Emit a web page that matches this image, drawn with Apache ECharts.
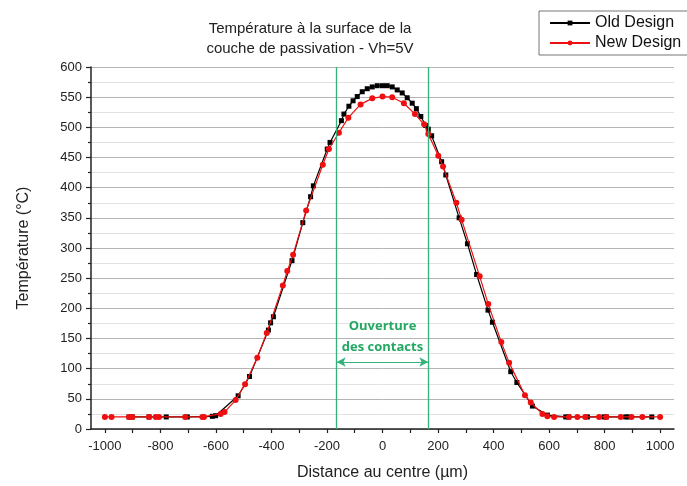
<!DOCTYPE html>
<html>
<head>
<meta charset="utf-8">
<script src="https://cdn.jsdelivr.net/npm/echarts@6/dist/echarts.min.js"></script>
<style>
  html, body { margin: 0; padding: 0; background: #fff; }
  #chart { width: 687px; height: 486px; }
</style>
</head>
<body>
<div id="chart"></div>
<script>
// Old Design (carrés noirs) : [distance µm, température °C]
var oldDesign = [
  [-913, 20], [-901, 20], [-841, 20], [-779, 20], [-703, 20], [-613, 21], [-601, 22],
  [-520, 55], [-479, 87], [-411, 164], [-403, 176], [-393, 186], [-326, 279], [-287, 342],
  [-259, 385], [-249, 403], [-199, 464], [-189, 475], [-148, 511], [-139, 522], [-121, 535],
  [-106, 544], [-91, 551], [-73, 559], [-55, 564], [-37, 567], [-19, 569], [0, 569],
  [17, 569], [35, 567], [53, 562], [71, 557], [89, 549], [107, 540], [122, 531], [138, 518],
  [156, 503], [165, 497], [177, 486], [213, 443], [228, 421], [276, 350], [306, 307],
  [339, 256], [380, 197], [396, 177], [462, 95], [484, 77], [540, 38], [594, 23],
  [660, 20], [670, 20], [738, 20], [798, 20], [806, 20], [876, 20], [885, 20], [970, 20]
];
// New Design (ronds rouges)
var newDesign = [
  [-1000, 20], [-976, 20], [-913, 20], [-901, 20], [-841, 20], [-817, 20], [-805, 20],
  [-711, 20], [-649, 20], [-643, 20], [-583, 25], [-569, 28], [-529, 48], [-495, 74],
  [-451, 118], [-417, 159], [-359, 238], [-343, 262], [-322, 289], [-275, 362], [-215, 438],
  [-193, 464], [-157, 491], [-123, 516], [-79, 538], [-37, 548], [0, 551], [35, 550],
  [77, 540], [117, 522], [150, 505], [165, 489], [201, 453], [218, 435], [266, 375],
  [285, 347], [350, 253], [381, 207], [428, 144], [456, 110], [513, 56], [534, 44],
  [576, 25], [594, 21], [618, 20], [672, 20], [702, 20], [730, 20], [780, 20], [806, 20],
  [858, 20], [897, 20], [936, 20], [1000, 20]
];
var xLabels = [-1000, -800, -600, -400, -200, 0, 200, 400, 600, 800, 1000];
var xTicks = [-1000, -900, -800, -700, -600, -500, -400, -300, -200, -100, 0,
  100, 200, 300, 400, 500, 600, 700, 800, 900, 1000];
var contactEdges = [-165, 165];   // ouverture des contacts
var arrowLevel = 111;

var green = '#34b27a';
var font = 'Liberation Sans, Arial, sans-serif';

var chart = echarts.init(document.getElementById('chart'));
chart.setOption({
  animation: false,
  title: {
    text: 'Température à la surface de la\ncouche de passivation - Vh=5V',
    left: 305, top: 14, textAlign: 'center',
    textStyle: { fontSize: 15, fontWeight: 'normal', color: '#222', lineHeight: 20, fontFamily: font }
  },
  legend: {
    orient: 'vertical', left: 539, top: 11,
    itemWidth: 40, itemHeight: 6, itemGap: 4,
    padding: [4, 40, 4, 10],
    borderColor: '#777', borderWidth: 1,
    textStyle: { fontSize: 16, color: '#111', fontFamily: font },
    data: ['Old Design', 'New Design']
  },
  grid: { left: 91, right: 13, top: 67, bottom: 55 },
  xAxis: {
    type: 'value', min: -1050, max: 1050,
    name: 'Distance au centre (µm)', nameLocation: 'middle', nameGap: 36,
    nameTextStyle: { fontSize: 16, color: '#222', fontFamily: font },
    axisLine: { show: true, onZero: false, lineStyle: { color: '#222', width: 1.5 } },
    axisTick: { show: true, customValues: xTicks, length: 4, lineStyle: { color: '#222', width: 1.2 } },
    axisLabel: {
      customValues: xLabels, fontSize: 13, color: '#222', margin: 11, fontFamily: font,
      formatter: function (v) { return String(v); }
    },
    splitLine: { show: false }
  },
  yAxis: {
    type: 'value', min: 0, max: 600, interval: 50,
    name: 'Température (°C)', nameLocation: 'middle', nameGap: 59,
    nameTextStyle: { fontSize: 16, color: '#222', fontFamily: font },
    axisLine: { show: true, onZero: false, lineStyle: { color: '#222', width: 1.5 } },
    axisTick: { show: true, length: 5, lineStyle: { color: '#222', width: 1.2 } },
    minorTick: { show: true, splitNumber: 2, length: 3, lineStyle: { color: '#222', width: 1.2 } },
    axisLabel: { fontSize: 13, color: '#222', margin: 9, fontFamily: font },
    splitLine: { show: true, lineStyle: { color: '#b4b4b4', width: 1 } },
    minorSplitLine: { show: true, lineStyle: { color: '#e2e2e2', width: 1 } }
  },
  series: [
    {
      name: 'Old Design', type: 'line', data: oldDesign,
      symbol: 'rect', symbolSize: 5, color: '#000',
      lineStyle: { width: 1.2, color: '#000' }, z: 3,
      markLine: {
        silent: true, symbol: 'none', animation: false,
        lineStyle: { color: green, width: 1.3, type: 'solid' },
        label: { show: false },
        data: contactEdges.map(function (v) { return { xAxis: v }; })
      }
    },
    {
      name: 'New Design', type: 'line', data: newDesign,
      symbol: 'circle', symbolSize: 6, color: '#ee1010',
      lineStyle: { width: 1.2, color: '#ee1010' }, z: 4,
      markLine: {
        silent: true, animation: false,
        symbol: ['arrow', 'arrow'], symbolSize: [7, 9],
        lineStyle: { color: green, width: 1.2, type: 'solid' },
        label: {
          show: true, position: 'middle', distance: 4,
          formatter: 'Ouverture\ndes contacts',
          color: '#22a862', fontSize: 13, fontWeight: 'bold', lineHeight: 21,
          fontFamily: 'Open Sans, sans-serif'
        },
        data: [[{ coord: [contactEdges[0], arrowLevel] }, { coord: [contactEdges[1], arrowLevel] }]]
      }
    }
  ]
});
</script>
</body>
</html>
